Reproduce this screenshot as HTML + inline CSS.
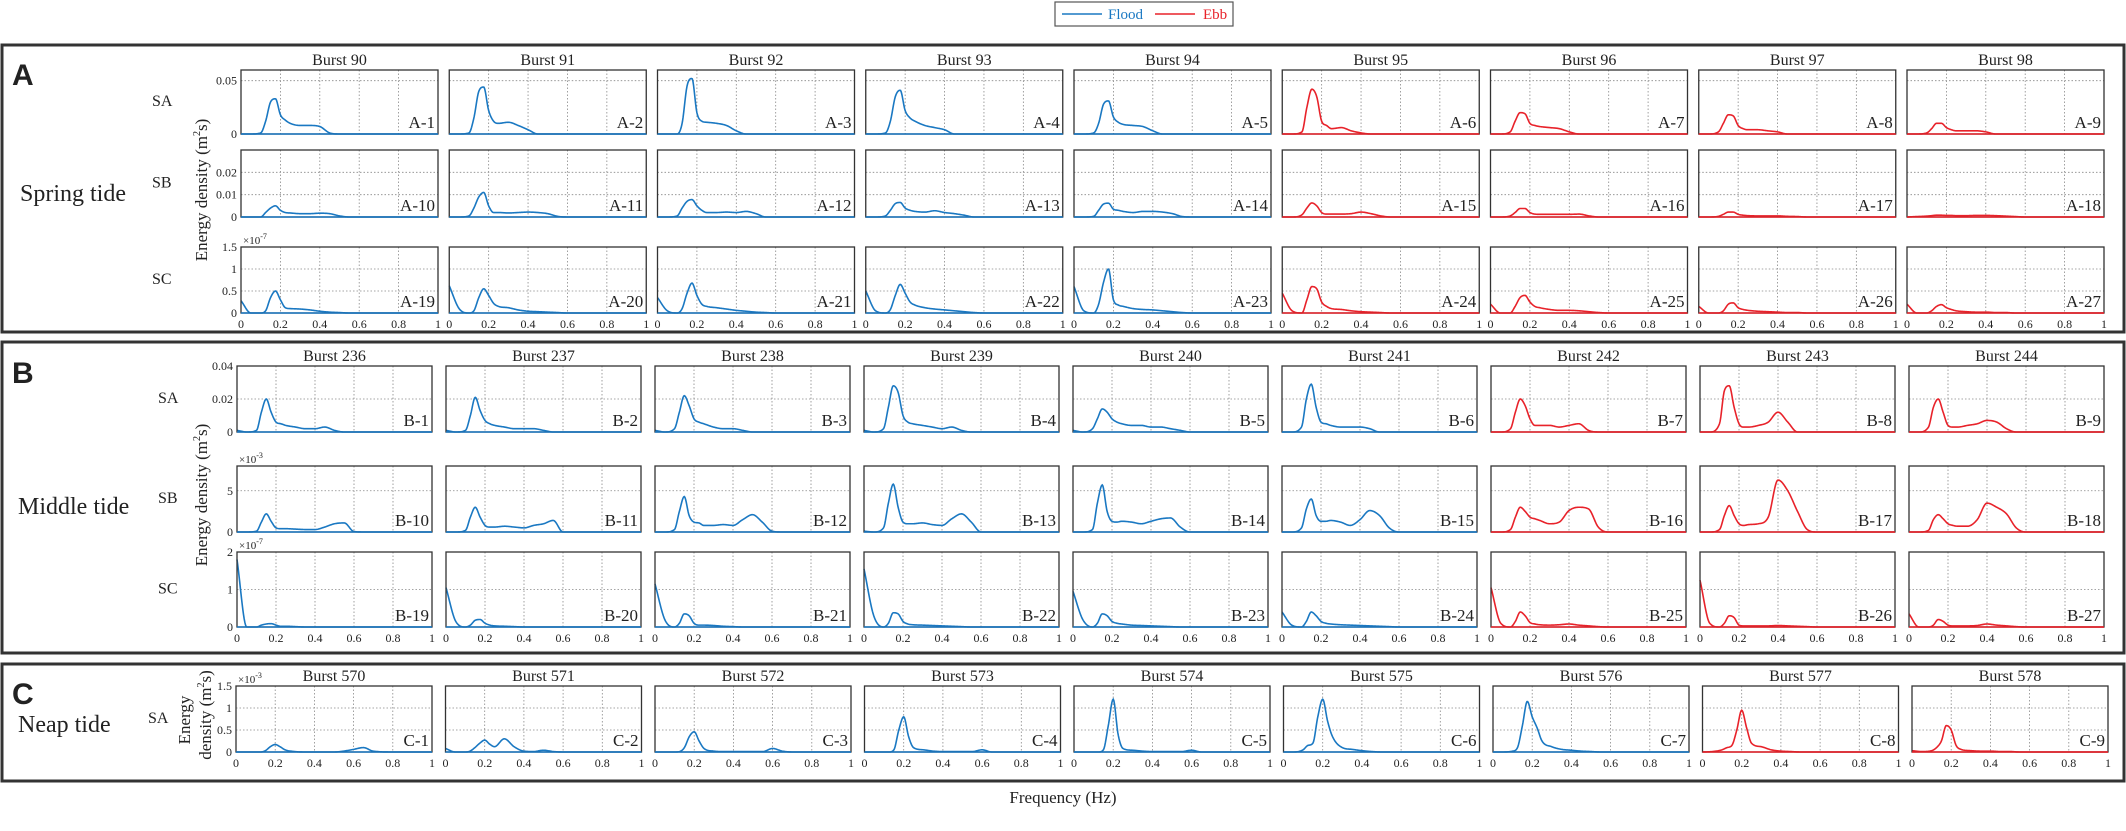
<!DOCTYPE html>
<html><head><meta charset="utf-8"><title>Energy density spectra</title>
<style>
html,body{margin:0;padding:0;background:#fff;}
svg{display:block;}
text{font-family:"Liberation Serif",serif;fill:#222;}
</style></head>
<body>
<svg id="fig" width="2126" height="831" viewBox="0 0 2126 831" xmlns="http://www.w3.org/2000/svg">
<g>
<rect x="1055" y="2" width="178" height="24" fill="#fff" stroke="#555" stroke-width="1.2"/>
<line x1="1062" y1="14" x2="1102" y2="14" stroke="#1a78c2" stroke-width="1.6"/>
<text x="1108" y="19" font-size="15" style="fill:#1a78c2">Flood</text>
<line x1="1155" y1="14" x2="1195" y2="14" stroke="#e8222a" stroke-width="1.6"/>
<text x="1203" y="19" font-size="15" style="fill:#e8222a">Ebb</text>
</g>
<rect x="2" y="45" width="2122" height="287" fill="none" stroke="#333" stroke-width="3"/>
<rect x="2" y="342" width="2122" height="311" fill="none" stroke="#333" stroke-width="3"/>
<rect x="2" y="664" width="2122" height="117" fill="none" stroke="#333" stroke-width="3"/>
<text x="12" y="85" font-size="30" font-weight="bold" style="font-family:'Liberation Sans',sans-serif">A</text>
<text x="12" y="383" font-size="30" font-weight="bold" style="font-family:'Liberation Sans',sans-serif">B</text>
<text x="12" y="704" font-size="30" font-weight="bold" style="font-family:'Liberation Sans',sans-serif">C</text>
<text x="20" y="201" font-size="24">Spring tide</text>
<text x="18" y="514" font-size="24">Middle tide</text>
<text x="18" y="732" font-size="24">Neap tide</text>
<text x="1063" y="803" font-size="17" text-anchor="middle">Frequency (Hz)</text>
<text transform="translate(207,190) rotate(-90)" font-size="17" text-anchor="middle">Energy density (m<tspan font-size="10" dy="-7">2</tspan><tspan dy="7">s)</tspan></text>
<text transform="translate(207,495) rotate(-90)" font-size="17" text-anchor="middle">Energy density (m<tspan font-size="10" dy="-7">2</tspan><tspan dy="7">s)</tspan></text>
<text transform="translate(190,720) rotate(-90)" font-size="17" text-anchor="middle">Energy</text>
<text transform="translate(211,715) rotate(-90)" font-size="17" text-anchor="middle">density (m<tspan font-size="10" dy="-7">2</tspan><tspan dy="7">s)</tspan></text>
</svg>
<script>
// shared frequency grid (Hz)
const freqs = [0,0.05,0.1,0.125,0.15,0.175,0.2,0.225,0.25,0.3,0.35,0.4,0.45,0.5,0.55,0.6,0.65,0.7,0.8,0.9,1];
const xTicks = [0,0.2,0.4,0.6,0.8,1];
const xTickLabels = ["0","0.2","0.4","0.6","0.8","1"];
const burstsA = [90,91,92,93,94,95,96,97,98];
const burstsB = [236,237,238,239,240,241,242,243,244];
const burstsC = [570,571,572,573,574,575,576,577,578];
const ebbStartA = 5, ebbStartB = 6, ebbStartC = 7;
const yLimA = [0.06, 0.03, 1.5];
const yTicksA = [[0,0.05],[0,0.01,0.02],[0,0.5,1,1.5]];
const yTickLabelsA = [["0","0.05"],["0","0.01","0.02"],["0","0.5","1","1.5"]];
const yLimB = [0.04, 8, 2];
const yTicksB = [[0,0.02,0.04],[0,5],[0,1,2]];
const yTickLabelsB = [["0","0.02","0.04"],["0","5"],["0","1","2"]];
const yLimC = [1.5];
const yTicksC = [[0,0.5,1,1.5]];
const yTickLabelsC = [["0","0.5","1","1.5"]];
const rowNamesA = ["SA","SB","SC"], rowNamesB = ["SA","SB","SC"], rowNamesC = ["SA"];
const seriesA_SA = [
[0,0,0.001,0.012,0.030,0.033,0.018,0.013,0.010,0.008,0.008,0.007,0.001],
[0,0,0.001,0.015,0.040,0.044,0.022,0.012,0.010,0.011,0.008,0.004,0],
[0,0,0,0.010,0.045,0.052,0.020,0.012,0.011,0.010,0.008,0.003,0],
[0,0,0.001,0.012,0.035,0.041,0.022,0.015,0.012,0.008,0.006,0.004,0],
[0,0,0.001,0.010,0.028,0.031,0.016,0.011,0.009,0.008,0.007,0.003,0],
[0,0,0.002,0.025,0.042,0.035,0.012,0.008,0.005,0.006,0.003,0.001,0],
[0,0,0.002,0.012,0.020,0.019,0.010,0.008,0.007,0.006,0.005,0.002,0],
[0,0,0.002,0.010,0.018,0.017,0.008,0.005,0.004,0.004,0.003,0.002,0],
[0,0,0.001,0.005,0.010,0.010,0.006,0.004,0.003,0.003,0.003,0.002,0]];
const seriesA_SB = [
[0,0,0,0.002,0.004,0.005,0.003,0.002,0.0018,0.0015,0.0015,0.0017,0.0015,0.0005,0],
[0,0,0.0005,0.004,0.009,0.011,0.005,0.002,0.002,0.0018,0.002,0.0022,0.002,0.0015,0.0003,0],
[0,0,0.0005,0.004,0.007,0.0078,0.005,0.003,0.002,0.002,0.0022,0.002,0.0025,0.0015,0],
[0,0,0.0005,0.003,0.006,0.0065,0.004,0.003,0.0025,0.0022,0.0028,0.002,0.0015,0.0008,0],
[0,0,0.0003,0.003,0.0058,0.0062,0.0035,0.003,0.0025,0.002,0.0025,0.0025,0.0022,0.0015,0.0002,0],
[0,0,0.001,0.004,0.0063,0.005,0.002,0.0013,0.0013,0.0013,0.0015,0.0022,0.0015,0.0005,0],
[0,0,0.0005,0.002,0.0038,0.0038,0.002,0.0013,0.0012,0.0012,0.0012,0.0012,0.0013,0.0005,0],
[0,0,0.0003,0.0012,0.0022,0.0022,0.0012,0.0008,0.0006,0.0005,0.0005,0.0005,0.0003,0.0002,0],
[0,0.0002,0.0004,0.0006,0.0008,0.0008,0.0007,0.0007,0.0006,0.0006,0.0007,0.0007,0.0006,0.0004,0.0002,0]];
const seriesA_SC = [
[0.28,0,0,0.05,0.35,0.5,0.3,0.12,0.1,0.09,0.07,0.04,0.02,0.01,0],
[0.62,0.1,0,0.05,0.35,0.55,0.4,0.22,0.15,0.12,0.07,0.04,0.03,0.02,0.01,0],
[0.35,0.05,0,0.1,0.45,0.68,0.4,0.2,0.15,0.12,0.09,0.06,0.04,0.02,0.01,0],
[0.5,0.05,0,0.08,0.4,0.65,0.45,0.25,0.18,0.12,0.09,0.07,0.05,0.03,0.01,0],
[0.6,0.05,0,0.2,0.7,1.0,0.3,0.18,0.15,0.1,0.08,0.07,0.05,0.03,0.01,0],
[0.45,0.05,0,0.3,0.6,0.55,0.25,0.15,0.1,0.08,0.05,0.03,0.02,0.01,0],
[0.2,0,0,0.15,0.35,0.4,0.25,0.15,0.12,0.08,0.06,0.06,0.05,0.03,0.01,0],
[0.15,0,0,0.05,0.2,0.23,0.12,0.08,0.06,0.04,0.03,0.02,0.01,0.01,0],
[0.2,0,0,0.05,0.15,0.19,0.12,0.08,0.05,0.03,0.02,0.02,0.01,0.01,0]];
const seriesB_SA = [
[0.001,0,0.001,0.012,0.02,0.012,0.006,0.005,0.004,0.003,0.002,0.002,0.003,0.001,0],
[0.001,0,0.001,0.01,0.021,0.013,0.007,0.005,0.004,0.003,0.002,0.002,0.002,0.001,0],
[0.001,0,0.002,0.012,0.022,0.016,0.008,0.006,0.005,0.003,0.002,0.002,0.001,0],
[0.001,0,0.002,0.015,0.028,0.024,0.01,0.006,0.005,0.004,0.003,0.002,0.003,0.001,0],
[0.001,0,0.002,0.008,0.014,0.012,0.008,0.006,0.005,0.004,0.004,0.003,0.003,0.002,0.001,0],
[0,0,0.003,0.02,0.029,0.015,0.006,0.005,0.004,0.003,0.003,0.003,0.002,0],
[0,0,0.002,0.012,0.02,0.016,0.008,0.004,0.004,0.004,0.003,0.004,0.005,0.001,0],
[0,0,0.005,0.025,0.028,0.015,0.005,0.003,0.003,0.004,0.006,0.012,0.006,0,0],
[0,0,0.003,0.015,0.02,0.012,0.004,0.003,0.003,0.004,0.005,0.007,0.006,0.002,0]];
const seriesB_SB = [
[0,0,0.1,1.2,2.2,1.3,0.5,0.4,0.4,0.35,0.3,0.3,0.6,1.0,1.1,0.05,0],
[0,0,0.2,1.8,3,1.8,0.8,0.6,0.6,0.7,0.6,0.5,0.8,1.0,1.4,0,0],
[0,0,0.3,2.5,4.3,2.0,1.2,1.1,0.8,0.8,0.9,0.8,1.5,2.1,1.2,0.1,0],
[0.1,0,0.5,3.5,5.8,3.0,1.2,1.0,1.0,1.1,0.9,0.8,1.6,2.2,1.2,0,0],
[0,0,0.3,3.5,5.7,2.5,1.3,1.2,1.3,1.2,1.0,1.3,1.6,1.7,0.6,0,0],
[0,0,0.5,2.8,4.0,2.0,1.3,1.3,1.4,1.2,0.8,1.5,2.6,2.0,0.5,0,0],
[0,0,0.3,1.8,3.0,2.5,1.8,1.6,1.4,1.0,1.2,2.6,3.0,2.8,0.6,0,0],
[0,0,0.3,2.0,3.2,2.0,1.0,0.8,0.9,1.0,1.8,6.3,5.0,2.5,0.3,0,0],
[0,0,0.2,1.5,2.1,1.6,1.0,0.8,0.7,0.7,1.5,3.5,3.0,2.2,0.5,0,0]];
const seriesB_SC = [
[1.8,0,0,0.05,0.08,0.09,0.05,0.02,0.02,0.01,0],
[1.05,0.15,0,0.05,0.18,0.2,0.1,0.05,0.03,0.02,0.01,0],
[1.15,0.2,0,0.1,0.35,0.3,0.1,0.05,0.05,0.04,0.02,0.01,0],
[1.55,0.3,0,0.1,0.38,0.35,0.15,0.08,0.06,0.05,0.04,0.03,0.02,0.01,0],
[0.95,0.2,0,0.1,0.35,0.3,0.15,0.1,0.08,0.05,0.04,0.03,0.02,0.01,0],
[0.4,0.05,0,0.15,0.4,0.3,0.15,0.1,0.08,0.06,0.05,0.04,0.03,0.02,0.01,0],
[1.05,0.1,0,0.15,0.4,0.3,0.12,0.08,0.06,0.05,0.06,0.08,0.05,0.03,0.01,0],
[1.25,0.1,0,0.1,0.3,0.25,0.05,0.03,0.03,0.03,0.03,0.04,0.03,0.02,0.01,0],
[0.35,0,0,0.05,0.2,0.15,0.05,0.03,0.03,0.03,0.04,0.08,0.05,0.03,0.01,0]];
const seriesC_SA = [
[0,0,0,0,0.03,0.12,0.17,0.12,0.05,0.01,0,0,0,0,0.02,0.06,0.1,0.02,0],
[0.08,0,0,0.02,0.1,0.2,0.27,0.18,0.12,0.3,0.12,0.02,0.01,0.04,0.01,0],
[0,0,0,0.01,0.1,0.35,0.46,0.25,0.08,0.02,0.01,0.01,0.01,0.01,0.01,0.08,0.02,0],
[0,0,0,0,0.05,0.5,0.8,0.35,0.1,0.05,0.02,0.01,0.01,0.01,0.01,0.05,0],
[0,0,0,0,0.05,0.6,1.2,0.4,0.08,0.04,0.02,0.01,0.01,0.01,0.01,0.04,0],
[0,0,0.05,0.15,0.2,0.8,1.2,0.7,0.35,0.1,0.06,0.03,0.01,0],
[0,0,0.02,0.1,0.6,1.15,0.8,0.55,0.25,0.12,0.06,0.04,0.02,0.01,0],
[0,0.01,0.05,0.1,0.15,0.5,0.95,0.55,0.2,0.12,0.05,0.02,0.01,0],
[0.03,0.01,0.03,0.1,0.25,0.6,0.5,0.15,0.06,0.03,0.02,0.02,0.01,0.01,0]];

const NS = "http://www.w3.org/2000/svg";
const svg = document.getElementById("fig");
const FLOOD = "#1a78c2", EBB = "#e8222a";
function mk(tag, attrs, parent){
  const e = document.createElementNS(NS, tag);
  for (const k in attrs) e.setAttribute(k, attrs[k]);
  (parent||svg).appendChild(e);
  return e;
}
function monotone(xs, ys){
  const n = xs.length, d = [], m = new Array(n).fill(0);
  for (let i=0;i<n-1;i++) d.push((ys[i+1]-ys[i])/(xs[i+1]-xs[i]));
  m[0]=d[0]; m[n-1]=d[n-2];
  for (let i=1;i<n-1;i++){ m[i] = (d[i-1]*d[i]<=0)?0:(d[i-1]+d[i])/2; }
  for (let i=0;i<n-1;i++){
    if (d[i]===0){m[i]=0;m[i+1]=0;continue;}
    const a=m[i]/d[i], b=m[i+1]/d[i], s=a*a+b*b;
    if (s>9){const t=3/Math.sqrt(s); m[i]=t*a*d[i]; m[i+1]=t*b*d[i];}
  }
  return function(x){
    let i=0; while(i<n-2 && x>xs[i+1]) i++;
    const h=xs[i+1]-xs[i], t=(x-xs[i])/h, t2=t*t, t3=t2*t;
    return (2*t3-3*t2+1)*ys[i]+(t3-2*t2+t)*h*m[i]+(-2*t3+3*t2)*ys[i+1]+(t3-t2)*h*m[i+1];
  };
}
function panel(cfg){
  const {x, y, w, h, ymax, yticks, ylabels, vals, color, showY, showX, label, title, expo} = cfg;
  const g = mk("g", {});
  
  
  const sx = f => x + f*w;
  const sy = v => y + h - (v/ymax)*h;
  for (let i=1;i<xTicks.length-1;i++){
    const gl = mk("line",{x1:sx(xTicks[i]),x2:sx(xTicks[i]),y1:y,y2:y+h,stroke:"#888","stroke-width":0.8,"stroke-dasharray":"1.5,2"},g);
    
    
  }
  yticks.forEach((t,i)=>{
    if (t>0 && t<ymax){
      const gl = mk("line",{x1:x,x2:x+w,y1:sy(t),y2:sy(t),stroke:"#888","stroke-width":0.8,"stroke-dasharray":"1.5,2"},g);
      
      
    }
    if (showY){
      const tl = mk("text",{x:x-4,y:sy(t)+4,"font-size":12,"text-anchor":"end"},g);
      tl.textContent = ylabels[i];
      
      
    }
  });
  const ys = freqs.map((f,i)=> i<vals.length ? vals[i] : 0);
  const fn = monotone(freqs, ys);
  let d = "";
  for (let k=0;k<=300;k++){
    const f=k/300; let v=Math.max(0,fn(f)); v=Math.min(v,ymax);
    d += (k?"L":"M")+sx(f).toFixed(2)+","+sy(v).toFixed(2);
  }
  const p = mk("path",{d:d,fill:"none",stroke:color,"stroke-width":1.6},g);
  
  
  const fr = mk("rect",{x:x,y:y,width:w,height:h,fill:"none",stroke:"#333","stroke-width":1.3},g);
  
  
  mk("line",{x1:x,x2:x+w,y1:y+h,y2:y+h,stroke:color,"stroke-width":1.6},g);
  const pl = mk("text",{x:x+w-3,y:y+h-6,"font-size":17,"text-anchor":"end"},g);
  pl.textContent = label;
  
  
  if (title){
    const tt = mk("text",{x:x+w/2,y:y-5,"font-size":16,"text-anchor":"middle"},g);
    tt.textContent = title;
    
    
  }
  if (showX){
    xTicks.forEach((t,i)=>{
      const xl = mk("text",{x:sx(t),y:y+h+15,"font-size":12,"text-anchor":"middle"},g);
      xl.textContent = xTickLabels[i];
      
      
    });
  }
  if (expo && showY){
    const ex = mk("text",{x:x+2,y:y-3,"font-size":11},g);
    ex.innerHTML = "×10<tspan font-size='8' dy='-5'>"+expo+"</tspan>";
    
    
  }
}
function section(cfg){
  cfg.rows.forEach((r,ri)=>{
    const rl = mk("text",{x:cfg.rowLabelX,y:(r[0]+r[1])/2+4,"font-size":16});
    rl.textContent = cfg.rowNames[ri];
    
    
    for (let c=0;c<9;c++){
      panel({x:cfg.x0+c*cfg.pitch, y:r[0], w:cfg.w, h:r[1]-r[0], ymax:cfg.yLim[ri],
        yticks:cfg.yTicks[ri], ylabels:cfg.yLabels[ri], vals:cfg.series[ri][c],
        color: c>=cfg.ebbStart?EBB:FLOOD, showY:c===0, showX: ri===cfg.rows.length-1,
        label: cfg.letter+"-"+(ri*9+c+1), title: ri===0?("Burst "+cfg.bursts[c]):null,
        expo: cfg.expo[ri]});
    }
  });
}
section({letter:"A", x0:241, pitch:208.25, w:197, rows:[[70,134],[150,217],[247,313]],
  yLim:yLimA, yTicks:yTicksA, yLabels:yTickLabelsA, series:[seriesA_SA,seriesA_SB,seriesA_SC],
  ebbStart:ebbStartA, bursts:burstsA, rowNames:rowNamesA, rowLabelX:152, expo:[null,null,"-7"]});
section({letter:"B", x0:237, pitch:209, w:195, rows:[[366,432],[466,532],[552,627]],
  yLim:yLimB, yTicks:yTicksB, yLabels:yTickLabelsB, series:[seriesB_SA,seriesB_SB,seriesB_SC],
  ebbStart:ebbStartB, bursts:burstsB, rowNames:rowNamesB, rowLabelX:158, expo:[null,"-3","-7"]});
section({letter:"C", x0:236, pitch:209.5, w:196, rows:[[686,752]],
  yLim:yLimC, yTicks:yTicksC, yLabels:yTickLabelsC, series:[seriesC_SA],
  ebbStart:ebbStartC, bursts:burstsC, rowNames:rowNamesC, rowLabelX:148, expo:["-3"]});
</script>
</body></html>
